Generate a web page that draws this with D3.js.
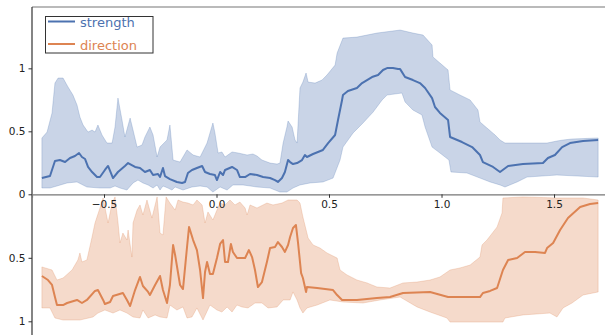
<!DOCTYPE html>
<html>
<head>
<meta charset="utf-8">
<script src="https://cdn.jsdelivr.net/npm/d3@7"></script>
<style>
  body { margin: 0; background: #fff; }
</style>
</head>
<body>
<div id="chart"></div>
<script>
// strength: mean line and band edges, [x, value]
const strengthMean = [[-0.776,0.129],[-0.740,0.145],[-0.718,0.264],[-0.696,0.272],[-0.673,0.256],[-0.651,0.288],[-0.629,0.304],[-0.611,0.328],[-0.598,0.296],[-0.584,0.280],[-0.571,0.217],[-0.553,0.177],[-0.531,0.137],[-0.518,0.137],[-0.496,0.193],[-0.482,0.225],[-0.460,0.129],[-0.438,0.177],[-0.407,0.225],[-0.393,0.248],[-0.362,0.217],[-0.340,0.209],[-0.318,0.177],[-0.296,0.193],[-0.282,0.153],[-0.260,0.161],[-0.251,0.137],[-0.238,0.209],[-0.229,0.145],[-0.207,0.121],[-0.176,0.098],[-0.153,0.090],[-0.140,0.098],[-0.127,0.169],[-0.109,0.193],[-0.087,0.209],[-0.064,0.225],[-0.051,0.177],[-0.029,0.161],[-0.007,0.153],[0.002,0.113],[0.016,0.177],[0.029,0.153],[0.038,0.193],[0.069,0.217],[0.091,0.193],[0.104,0.137],[0.127,0.137],[0.149,0.161],[0.180,0.153],[0.207,0.137],[0.238,0.129],[0.260,0.113],[0.273,0.098],[0.291,0.129],[0.304,0.177],[0.318,0.272],[0.327,0.256],[0.340,0.240],[0.358,0.248],[0.380,0.272],[0.393,0.312],[0.402,0.296],[0.429,0.320],[0.473,0.352],[0.496,0.407],[0.527,0.471],[0.540,0.590],[0.558,0.749],[0.562,0.788],[0.584,0.820],[0.624,0.844],[0.647,0.883],[0.691,0.931],[0.718,0.947],[0.740,0.987],[0.758,1.002],[0.784,1.002],[0.807,0.994],[0.816,0.994],[0.838,0.931],[0.873,0.907],[0.904,0.883],[0.927,0.844],[0.958,0.764],[0.971,0.693],[0.993,0.646],[1.029,0.590],[1.038,0.455],[1.091,0.415],[1.136,0.375],[1.171,0.312],[1.184,0.256],[1.229,0.217],[1.260,0.177],[1.296,0.225],[1.362,0.240],[1.451,0.248],[1.473,0.288],[1.504,0.312],[1.536,0.375],[1.571,0.407],[1.629,0.423],[1.696,0.431]];
const strengthHigh = [[-0.776,0.447],[-0.753,0.494],[-0.731,0.645],[-0.718,0.883],[-0.704,0.923],[-0.682,0.923],[-0.660,0.852],[-0.638,0.788],[-0.620,0.709],[-0.607,0.613],[-0.593,0.550],[-0.571,0.494],[-0.553,0.510],[-0.540,0.494],[-0.527,0.550],[-0.509,0.471],[-0.487,0.407],[-0.464,0.407],[-0.451,0.534],[-0.438,0.764],[-0.420,0.590],[-0.407,0.455],[-0.384,0.605],[-0.371,0.510],[-0.353,0.375],[-0.331,0.391],[-0.318,0.455],[-0.296,0.534],[-0.282,0.471],[-0.264,0.296],[-0.251,0.375],[-0.220,0.431],[-0.207,0.550],[-0.193,0.272],[-0.162,0.256],[-0.131,0.352],[-0.104,0.312],[-0.073,0.296],[-0.042,0.407],[-0.029,0.487],[-0.016,0.566],[-0.007,0.487],[0.007,0.328],[0.024,0.336],[0.038,0.296],[0.069,0.336],[0.096,0.328],[0.136,0.312],[0.162,0.320],[0.180,0.304],[0.202,0.272],[0.238,0.248],[0.269,0.240],[0.282,0.248],[0.296,0.407],[0.313,0.534],[0.318,0.582],[0.336,0.534],[0.349,0.431],[0.358,0.407],[0.371,0.844],[0.384,0.891],[0.398,0.963],[0.407,0.891],[0.438,0.883],[0.469,0.907],[0.491,0.947],[0.527,1.026],[0.536,1.121],[0.562,1.240],[0.624,1.248],[0.713,1.280],[0.816,1.304],[0.873,1.280],[0.918,1.264],[0.958,1.185],[0.962,1.090],[0.993,1.042],[1.029,0.987],[1.038,0.828],[1.082,0.788],[1.127,0.749],[1.162,0.669],[1.171,0.574],[1.202,0.526],[1.238,0.471],[1.260,0.431],[1.282,0.407],[1.362,0.407],[1.469,0.407],[1.513,0.423],[1.540,0.431],[1.580,0.439],[1.696,0.447]];
const strengthLow = [[-0.776,0.050],[-0.740,0.050],[-0.709,0.066],[-0.664,0.090],[-0.620,0.098],[-0.576,0.058],[-0.518,0.050],[-0.473,0.050],[-0.451,0.066],[-0.429,0.050],[-0.398,0.034],[-0.371,0.090],[-0.349,0.113],[-0.327,0.090],[-0.304,0.074],[-0.282,0.050],[-0.264,0.074],[-0.251,0.034],[-0.238,0.066],[-0.216,0.050],[-0.198,0.034],[-0.184,0.058],[-0.149,0.034],[-0.109,0.058],[-0.073,0.066],[-0.042,0.058],[-0.016,0.018],[0.016,0.058],[0.047,0.034],[0.073,0.074],[0.118,0.074],[0.180,0.058],[0.238,0.050],[0.282,0.018],[0.313,0.018],[0.340,0.050],[0.371,0.074],[0.416,0.090],[0.473,0.098],[0.518,0.129],[0.549,0.272],[0.562,0.375],[0.607,0.487],[0.651,0.566],[0.696,0.653],[0.736,0.749],[0.758,0.788],[0.824,0.804],[0.838,0.733],[0.873,0.669],[0.913,0.630],[0.927,0.534],[0.958,0.375],[0.993,0.328],[1.033,0.272],[1.042,0.177],[1.113,0.169],[1.171,0.129],[1.216,0.098],[1.260,0.074],[1.282,0.058],[1.336,0.098],[1.380,0.137],[1.513,0.153],[1.696,0.137]];

// direction: drawn downward from the shared axis
const directionMean = [[-0.776,0.643],[-0.749,0.675],[-0.731,0.714],[-0.718,0.809],[-0.709,0.872],[-0.682,0.872],[-0.664,0.856],[-0.620,0.832],[-0.598,0.856],[-0.576,0.832],[-0.540,0.761],[-0.527,0.754],[-0.504,0.832],[-0.496,0.864],[-0.473,0.848],[-0.460,0.801],[-0.416,0.777],[-0.398,0.832],[-0.384,0.880],[-0.362,0.754],[-0.340,0.651],[-0.327,0.722],[-0.304,0.769],[-0.296,0.793],[-0.273,0.714],[-0.251,0.643],[-0.238,0.754],[-0.220,0.856],[-0.207,0.714],[-0.193,0.399],[-0.184,0.478],[-0.162,0.714],[-0.149,0.746],[-0.131,0.415],[-0.122,0.257],[-0.104,0.360],[-0.087,0.439],[-0.073,0.596],[-0.060,0.817],[-0.051,0.612],[-0.042,0.533],[-0.029,0.628],[-0.016,0.628],[0.002,0.502],[0.016,0.391],[0.029,0.360],[0.038,0.533],[0.051,0.533],[0.064,0.391],[0.073,0.454],[0.091,0.502],[0.104,0.502],[0.127,0.502],[0.144,0.439],[0.158,0.494],[0.171,0.596],[0.184,0.730],[0.202,0.691],[0.224,0.533],[0.238,0.423],[0.260,0.415],[0.273,0.376],[0.291,0.415],[0.304,0.454],[0.318,0.399],[0.327,0.336],[0.340,0.265],[0.353,0.242],[0.362,0.376],[0.376,0.620],[0.384,0.659],[0.398,0.769],[0.402,0.730],[0.447,0.738],[0.518,0.754],[0.536,0.793],[0.558,0.832],[0.624,0.832],[0.713,0.817],[0.771,0.809],[0.829,0.777],[0.949,0.769],[1.029,0.809],[1.171,0.809],[1.184,0.777],[1.216,0.761],[1.247,0.738],[1.273,0.596],[1.296,0.517],[1.336,0.502],[1.371,0.454],[1.416,0.454],[1.460,0.462],[1.469,0.423],[1.496,0.383],[1.527,0.281],[1.562,0.187],[1.616,0.100],[1.660,0.076],[1.696,0.069]];
const directionLow = [[-0.776,0.572],[-0.731,0.596],[-0.709,0.675],[-0.682,0.659],[-0.642,0.596],[-0.616,0.517],[-0.607,0.462],[-0.598,0.533],[-0.576,0.517],[-0.553,0.336],[-0.540,0.226],[-0.518,0.108],[-0.504,0.029],[-0.482,0.226],[-0.464,0.069],[-0.451,0.021],[-0.438,0.218],[-0.429,0.383],[-0.416,0.305],[-0.398,0.360],[-0.393,0.281],[-0.376,0.494],[-0.371,0.226],[-0.353,0.124],[-0.340,0.084],[-0.327,0.163],[-0.309,0.045],[-0.287,0.187],[-0.264,0.021],[-0.251,0.305],[-0.238,0.320],[-0.224,0.021],[-0.207,0.069],[-0.184,0.124],[-0.171,0.045],[-0.149,0.061],[-0.127,0.069],[-0.104,0.084],[-0.087,0.045],[-0.064,0.084],[-0.051,0.226],[-0.038,0.139],[-0.016,0.202],[0.002,0.124],[0.016,0.069],[0.038,0.084],[0.060,0.045],[0.082,0.084],[0.104,0.061],[0.127,0.108],[0.136,0.163],[0.149,0.084],[0.180,0.108],[0.224,0.069],[0.251,0.084],[0.291,0.069],[0.318,0.045],[0.358,0.045],[0.371,0.069],[0.384,0.179],[0.407,0.344],[0.429,0.399],[0.460,0.423],[0.491,0.462],[0.536,0.502],[0.549,0.596],[0.580,0.635],[0.624,0.675],[0.669,0.698],[0.713,0.730],[0.771,0.738],[0.829,0.698],[0.891,0.691],[0.949,0.675],[0.993,0.651],[1.038,0.596],[1.082,0.580],[1.127,0.557],[1.171,0.494],[1.180,0.399],[1.202,0.360],[1.247,0.257],[1.269,0.147],[1.273,0.029],[1.362,0.021],[1.513,0.029],[1.629,0.029],[1.696,0.045]];
const directionHigh = [[-0.776,0.895],[-0.740,0.895],[-0.718,0.974],[-0.682,0.990],[-0.607,0.990],[-0.549,0.966],[-0.527,0.935],[-0.496,0.911],[-0.460,0.935],[-0.429,0.911],[-0.398,0.935],[-0.371,0.966],[-0.340,0.974],[-0.327,0.911],[-0.304,0.974],[-0.273,0.950],[-0.251,0.966],[-0.220,0.974],[-0.207,0.872],[-0.176,0.911],[-0.149,0.887],[-0.131,0.974],[-0.109,0.966],[-0.087,0.895],[-0.060,0.990],[-0.029,0.872],[0.002,0.911],[0.024,0.927],[0.047,0.887],[0.069,0.927],[0.091,0.872],[0.113,0.887],[0.140,0.895],[0.171,0.856],[0.202,0.856],[0.229,0.895],[0.269,0.887],[0.296,0.832],[0.327,0.832],[0.340,0.769],[0.358,0.832],[0.371,0.895],[0.384,0.935],[0.402,0.895],[0.447,0.872],[0.504,0.832],[0.562,0.848],[0.651,0.856],[0.727,0.832],[0.816,0.809],[0.891,0.887],[0.949,0.927],[1.024,0.974],[1.038,1.006],[1.273,1.006],[1.282,0.974],[1.362,0.950],[1.482,0.935],[1.513,0.966],[1.540,0.895],[1.580,0.856],[1.629,0.793],[1.696,0.769]];

const xTicks = [-0.5, 0, 0.5, 1, 1.5];
const topTicks = [0, 0.5, 1];
const bottomTicks = [0.5, 1];
const seriesNames = ['strength', 'direction'];
const colors = ['#4c72b0', '#dd8452'];

const width = 605;
const height = 335;
const font = 'DejaVu Sans';

const svg = d3.select('#chart').append('svg')
  .attr('width', width)
  .attr('height', height);

const x = d3.scaleLinear().domain([-0.82, 1.731]).range([32, 606]);
const yTop = d3.scaleLinear().domain([0, 1.487]).range([194.3, 7]);
const yBot = d3.scaleLinear().domain([0, 1]).range([194.3, 321.3]);

const bandPath = (hi, lo, y) =>
  d3.line().x(d => x(d[0])).y(d => y(d[1]))(hi.concat(lo.slice().reverse())) + 'Z';
const meanPath = (data, y) =>
  d3.line().x(d => x(d[0])).y(d => y(d[1]))(data);

const layers = [
  { hi: strengthHigh, lo: strengthLow, mean: strengthMean, y: yTop, color: colors[0] },
  { hi: directionHigh, lo: directionLow, mean: directionMean, y: yBot, color: colors[1] }
];

layers.forEach(l => {
  svg.append('path')
    .attr('d', bandPath(l.hi, l.lo, l.y))
    .attr('fill', l.color)
    .attr('fill-opacity', 0.3)
    .attr('stroke', l.color)
    .attr('stroke-opacity', 0.25)
    .attr('stroke-width', 1);
});
layers.forEach(l => {
  svg.append('path')
    .attr('d', meanPath(l.mean, l.y))
    .attr('fill', 'none')
    .attr('stroke', l.color)
    .attr('stroke-width', 2)
    .attr('stroke-linejoin', 'round');
});

// spines
svg.append('line')
  .attr('x1', 32).attr('x2', width).attr('y1', 7).attr('y2', 7)
  .attr('stroke', '#777').attr('stroke-width', 1.2);
svg.append('line')
  .attr('x1', 32).attr('x2', 32).attr('y1', 7).attr('y2', height)
  .attr('stroke', '#333').attr('stroke-width', 1.2);

// shared x axis in the middle
const xAxis = svg.append('g')
  .attr('transform', 'translate(0,194.3)')
  .call(d3.axisBottom(x).tickValues(xTicks).tickSizeOuter(0).tickSize(3.5).tickPadding(3)
    .tickFormat(d3.format('.1f')));
xAxis.select('.domain').attr('stroke', '#777').attr('stroke-width', 1.2);

const styleAxis = g => {
  g.selectAll('text').attr('font-family', font).attr('font-size', 10.5).attr('fill', '#222');
  g.selectAll('.tick line').attr('stroke', '#333');
};
styleAxis(xAxis);

const leftTop = svg.append('g')
  .attr('transform', 'translate(32,0)')
  .call(d3.axisLeft(yTop).tickValues(topTicks).tickSize(3.5).tickPadding(3).tickFormat(d3.format('~g')));
leftTop.select('.domain').remove();
styleAxis(leftTop);

const leftBot = svg.append('g')
  .attr('transform', 'translate(32,0)')
  .call(d3.axisLeft(yBot).tickValues(bottomTicks).tickSize(3.5).tickPadding(3).tickFormat(d3.format('~g')));
leftBot.select('.domain').remove();
styleAxis(leftBot);

// legend
const legend = svg.append('g').attr('transform', 'translate(45.5,16.5)');
legend.append('rect')
  .attr('width', 107.5).attr('height', 36.5)
  .attr('fill', '#fff').attr('stroke', '#333').attr('stroke-width', 1);
seriesNames.forEach((name, i) => {
  const row = legend.append('g').attr('transform', `translate(0,${5 + i * 22.5})`);
  row.append('line')
    .attr('x1', 2.5).attr('x2', 29.5).attr('y1', 0).attr('y2', 0)
    .attr('stroke', colors[i]).attr('stroke-width', 2);
  row.append('text')
    .attr('x', 34.5).attr('y', 5.5)
    .attr('font-family', font).attr('font-size', 13)
    .attr('fill', colors[i])
    .text(name);
});
</script>
</body>
</html>
